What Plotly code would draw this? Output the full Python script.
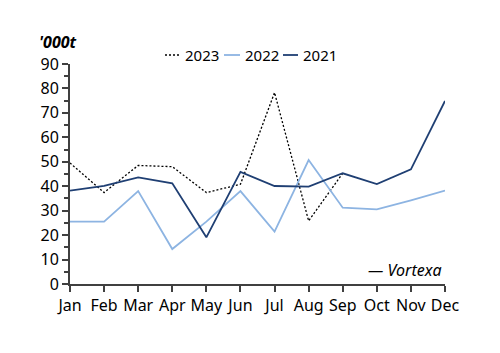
import plotly.graph_objects as go

months = ["Jan", "Feb", "Mar", "Apr", "May", "Jun", "Jul", "Aug", "Sep", "Oct", "Nov", "Dec"]
y2023 = [49.5, 37.4, 48.5, 48.0, 37.4, 40.8, 78.3, 25.8, 45.3]
y2022 = [25.5, 25.5, 38.0, 14.3, 25.5, 38.0, 21.4, 50.7, 31.2, 30.5, 34.2, 38.2]
y2021 = [38.2, 40.1, 43.6, 41.2, 19.1, 45.9, 40.1, 39.8, 45.3, 40.9, 46.9, 74.9]

series_names = ["2023", "2022", "2021"]
series_colors = ["#000000", "#8DB4E2", "#1F3F73"]
series_dash = ["2px,2px", "solid", "solid"]
series_width = [1.3, 1.8, 1.8]

FONT = "Noto Sans"

# plot area in pixels (for converting legend layout positions to paper coords)
L, R, T, B, W, H = 70, 55, 64, 69, 500, 353
PW, PH = W - L - R, H - T - B
def px_x(px):
    return (px - L) / PW
def px_y(py):
    return (H - B - py) / PH

fig = go.Figure()
for name, ys, col, dash, wd in zip(series_names, [y2023, y2022, y2021], series_colors, series_dash, series_width):
    fig.add_trace(go.Scatter(x=months[:len(ys)], y=ys, mode="lines", name=name,
                             line=dict(color=col, width=wd, dash=dash), showlegend=False))

# custom compact legend (short line samples like the reference)
legend_sample_x = [(165, 180), (224, 240), (283, 298)]
legend_text_x = [183, 243, 301]
leg_y = 55
shapes = []
annotations = []
for (x0, x1), tx, name, col, dash, wd in zip(legend_sample_x, legend_text_x, series_names,
                                              series_colors, series_dash, series_width):
    shapes.append(dict(type="line", xref="paper", yref="paper",
                       x0=px_x(x0), x1=px_x(x1), y0=px_y(leg_y), y1=px_y(leg_y),
                       line=dict(color=col, width=wd, dash=dash)))
    annotations.append(dict(text=name, xref="paper", yref="paper", x=px_x(tx), y=px_y(leg_y),
                            xanchor="left", yanchor="middle", showarrow=False,
                            font=dict(size=15, color="#000000")))

annotations += [
    dict(text="<b><i>'000t</i></b>", xref="paper", yref="paper", x=px_x(37), y=px_y(42),
         xanchor="left", yanchor="middle", showarrow=False, font=dict(size=16)),
    dict(text="<i>— Vortexa</i>", xref="paper", yref="paper", x=px_x(444), y=px_y(270),
         xanchor="right", yanchor="middle", showarrow=False, font=dict(size=16)),
]

fig.update_layout(
    width=W, height=H,
    margin=dict(l=L, r=R, t=T, b=B),
    paper_bgcolor="white", plot_bgcolor="white",
    font=dict(family=FONT, size=16, color="#000000"),
    showlegend=False,
    xaxis=dict(type="category", range=[0, 11], showgrid=False, zeroline=False,
               showline=True, linecolor="#404040", linewidth=2,
               ticks="outside", ticklen=6, tickcolor="#404040", tickwidth=1.5,
               tickfont=dict(size=16)),
    yaxis=dict(range=[0, 90], dtick=10, showgrid=False, zeroline=False,
               showline=True, linecolor="#404040", linewidth=2,
               ticks="outside", ticklen=6, tickcolor="#404040", tickwidth=1.5,
               minor=dict(dtick=5, ticks="outside", ticklen=4, tickcolor="#404040", tickwidth=1.5),
               tickfont=dict(size=16)),
    shapes=shapes,
    annotations=annotations,
)

fig.write_html("out.html")
